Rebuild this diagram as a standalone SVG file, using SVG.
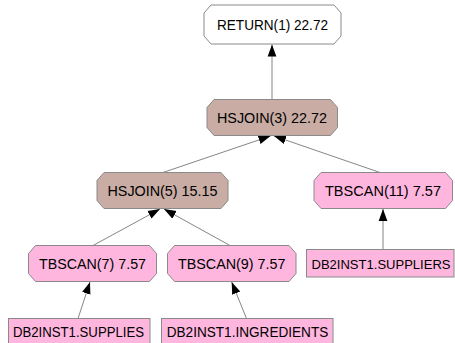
<svg xmlns="http://www.w3.org/2000/svg" width="455" height="343" viewBox="0 0 455 343">
<style>
.n{stroke:#8a8a8a;stroke-width:1}
.ret{fill:#ffffff}
.join{fill:#c9aca4}
.scan{fill:#ffb6de}
.t{font-family:"Liberation Sans",Arial,Helvetica,sans-serif;font-size:14px;fill:#000;text-anchor:middle}
.s{font-size:13px}
.e{stroke:#666;stroke-width:0.8;fill:none;marker-end:url(#ah)}
</style>
<defs>
<marker id="ah" markerUnits="userSpaceOnUse" markerWidth="12" markerHeight="10" viewBox="0 0 11 8" refX="11" refY="4" orient="auto">
<polygon points="0,0 11,4 0,8" fill="#000"/>
</marker>
</defs>
<rect width="455" height="343" fill="#fff"/>
<g id="edges">
<path class="e" d="M272,99.5 L272,44.5"/>
<path class="e" d="M163,172.5 L270.5,136"/>
<path class="e" d="M380,172.5 L274,136"/>
<path class="e" d="M93,245.5 L160,209"/>
<path class="e" d="M230,245.5 L164,209"/>
<path class="e" d="M78,318.5 L90,282"/>
<path class="e" d="M246.5,318.5 L231.7,282"/>
<path class="e" d="M383,249.5 L383,209"/>
</g>
<g id="return1">
<polygon class="n ret" points="211,5 334,5 341,13 341,36 334,44 211,44 204,36 204,13"/>
<text class="t" x="272.5" y="29.5" textLength="111" lengthAdjust="spacingAndGlyphs">RETURN(1) 22.72</text>
</g>
<g id="hsjoin3">
<polygon class="n join" points="214,99.5 330.5,99.5 337.5,107.5 337.5,127.5 330.5,135.5 214,135.5 207,127.5 207,107.5"/>
<text class="t" x="272" y="122.5" textLength="110" lengthAdjust="spacingAndGlyphs">HSJOIN(3) 22.72</text>
</g>
<g id="hsjoin5">
<polygon class="n join" points="104,172.5 221,172.5 228,180.5 228,200.5 221,208.5 104,208.5 97,200.5 97,180.5"/>
<text class="t" x="162.5" y="195.5" textLength="110" lengthAdjust="spacingAndGlyphs">HSJOIN(5) 15.15</text>
</g>
<g id="tbscan11">
<polygon class="n scan" points="321,172.5 445.5,172.5 452.5,180.5 452.5,200.5 445.5,208.5 321,208.5 314,200.5 314,180.5"/>
<text class="t" x="383" y="195.5" textLength="116" lengthAdjust="spacingAndGlyphs">TBSCAN(11) 7.57</text>
</g>
<g id="tbscan7">
<polygon class="n scan" points="35.5,245.5 149.5,245.5 156.5,253.5 156.5,273.5 149.5,281.5 35.5,281.5 28.5,273.5 28.5,253.5"/>
<text class="t" x="92.5" y="268.5" textLength="107" lengthAdjust="spacingAndGlyphs">TBSCAN(7) 7.57</text>
</g>
<g id="tbscan9">
<polygon class="n scan" points="174.5,245.5 289,245.5 296,253.5 296,273.5 289,281.5 174.5,281.5 167.5,273.5 167.5,253.5"/>
<text class="t" x="231.7" y="268.5" textLength="107.5" lengthAdjust="spacingAndGlyphs">TBSCAN(9) 7.57</text>
</g>
<g id="suppliers">
<rect class="n scan" x="306.5" y="249.5" width="147.5" height="27.5"/>
<text class="t s" x="381" y="268.5" textLength="139" lengthAdjust="spacingAndGlyphs">DB2INST1.SUPPLIERS</text>
</g>
<g id="supplies">
<rect class="n scan" x="8.5" y="318.5" width="141.5" height="28"/>
<text class="t" x="78.5" y="337" textLength="131" lengthAdjust="spacingAndGlyphs">DB2INST1.SUPPLIES</text>
</g>
<g id="ingredients">
<rect class="n scan" x="161.5" y="318.5" width="171.5" height="28"/>
<text class="t" x="247.5" y="337" textLength="161.5" lengthAdjust="spacingAndGlyphs">DB2INST1.INGREDIENTS</text>
</g>
</svg>
